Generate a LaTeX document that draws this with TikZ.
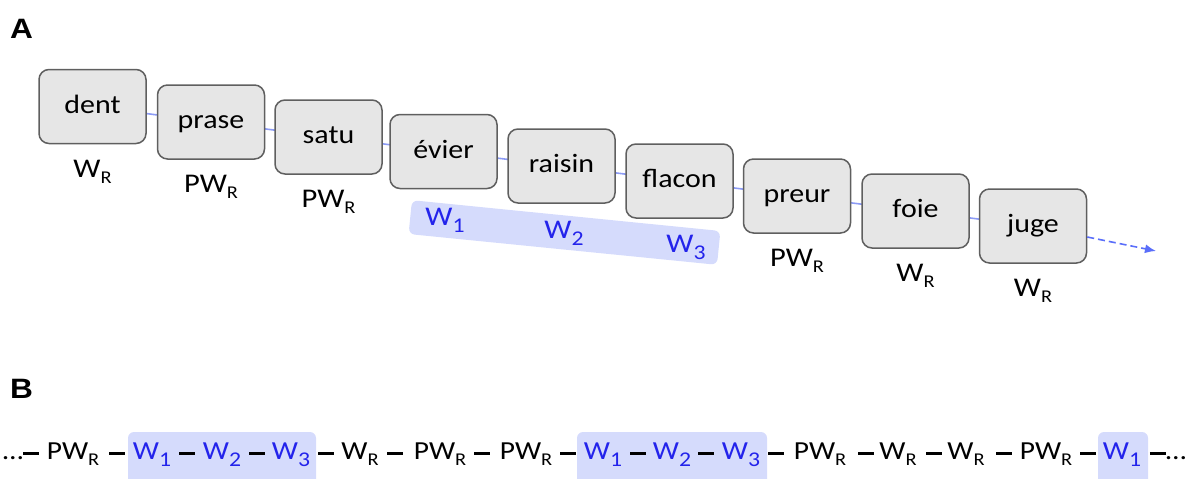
\documentclass[tikz,border=0pt]{standalone}
\usepackage{fontspec}
\setmainfont{Carlito}[FakeStretch=1.13]
\newfontfamily\panelfont{Liberation Sans}[FakeStretch=1.13]
\usetikzlibrary{arrows.meta}
\definecolor{boxfill}{RGB}{230,230,230}
\definecolor{boxdraw}{RGB}{95,95,95}
\definecolor{linkblue}{RGB}{140,155,245}
\definecolor{arrowblue}{RGB}{90,110,250}
\definecolor{wblue}{RGB}{35,35,235}
\definecolor{hl}{RGB}{213,219,252}
\newcommand\subR[1]{\raisebox{-6pt}{\fontsize{18}{18}\selectfont #1}}
\newcommand\subD[1]{\raisebox{-7pt}{\fontsize{21}{21}\selectfont #1}}
\newcommand\dsh{\rule[4.5pt]{16pt}{2.2pt}}
\pgfdeclarelayer{bg}
\pgfsetlayers{bg,main}
\begin{document}
\begin{tikzpicture}[x=1pt,y=-1pt,
  wordbox/.style={draw=boxdraw, line width=1.5pt, fill=boxfill, rounded corners=10pt,
    minimum width=107pt, minimum height=74pt, inner sep=0pt,
    font=\fontsize{26.5}{26.5}\selectfont, text height=18pt, text depth=5pt},
  lab/.style={anchor=base, inner sep=0pt, font=\fontsize{27}{27}\selectfont},
  blab/.style={anchor=base, inner sep=0pt, font=\fontsize{27}{27}\selectfont, text=wblue},
  tok/.style={anchor=base, inner sep=0pt, font=\fontsize{26}{26}\selectfont},
  btok/.style={tok, text=wblue},
  link/.style={draw=linkblue, line width=1.6pt},
  panel/.style={anchor=base west, inner sep=0pt, font=\panelfont\bfseries\fontsize{28}{28}\selectfont}
]
\useasboundingbox (0,0) rectangle (1195,479);
\clip (0,0) rectangle (1195,479);

% panel labels
\node[panel] (pA) at (10,38) {A};
\node[panel] (pB) at (10,398) {B};

% band behind W1 W2 W3
\node[fill=hl, rounded corners=6pt, rotate=-5.7, minimum width=310pt, minimum height=34pt, inner sep=0pt] (band) at (564.5,232.5) {};

% boxes
\node[wordbox] (dent)   at (92.5,106.5) {dent};
\node[wordbox] (prase)  at (211,122)    {prase};
\node[wordbox] (satu)   at (328.5,137)  {satu};
\node[wordbox] (evier)  at (443.5,151.5){évier};
\node[wordbox] (raisin) at (561.5,166)  {raisin};
\node[wordbox] (flacon) at (679.5,181)  {flacon};
\node[wordbox] (preur)  at (797,196)    {preur};
\node[wordbox] (foie)   at (915.5,211)  {foie};
\node[wordbox] (juge)   at (1033,226)   {juge};

\begin{pgfonlayer}{bg}
\draw[link] (dent.center) -- (prase.center);
\draw[link] (prase.center) -- (satu.center);
\draw[link] (satu.center) -- (evier.center);
\draw[link] (evier.center) -- (raisin.center);
\draw[link] (raisin.center) -- (flacon.center);
\draw[link] (flacon.center) -- (preur.center);
\draw[link] (preur.center) -- (foie.center);
\draw[link] (foie.center) -- (juge.center);
\end{pgfonlayer}

\coordinate (arrowend) at (1156,251);
\draw[draw=arrowblue, line width=1.6pt, dash pattern=on 7pt off 4pt,
  -{Latex[length=11pt,width=9pt]}] (juge) -- (arrowend);

% labels under boxes
\node[lab] (ldent)  at ([yshift=-70.5pt]dent.center)  {W\subR{R}};
\node[lab] (lprase) at ([yshift=-70.5pt]prase.center) {PW\subR{R}};
\node[lab] (lsatu)  at ([yshift=-70.5pt]satu.center)  {PW\subR{R}};
\node[lab] (lpreur) at ([yshift=-70.5pt]preur.center) {PW\subR{R}};
\node[lab] (lfoie)  at ([yshift=-70.5pt]foie.center)  {W\subR{R}};
\node[lab] (ljuge)  at ([yshift=-70.5pt]juge.center)  {W\subR{R}};

% band labels
\node[blab] (bw1) at (445,225) {W\subD{1}};
\node[blab] (bw2) at (564,238) {W\subD{2}};
\node[blab] (bw3) at (686,252) {W\subD{3}};

% B row highlights
\fill[hl, rounded corners=6pt] (128,432) rectangle (316,495);
\fill[hl, rounded corners=6pt] (577,432) rectangle (767,495);
\fill[hl, rounded corners=6pt] (1098,432) rectangle (1148,495);

% B row tokens
\node[tok]  (b1)  at (21,459)   {…\dsh};
\node[tok]  (b2)  at (73,459)   {PW\subR{R}};
\node[tok]  (b3)  at (117,459)  {\dsh};
\node[btok] (b4)  at (152,459)  {W\subD{1}};
\node[tok]  (b5)  at (187,459)  {\dsh};
\node[btok] (b6)  at (222,459)  {W\subD{2}};
\node[tok]  (b7)  at (257,459)  {\dsh};
\node[btok] (b8)  at (291,459)  {W\subD{3}};
\node[tok]  (b9)  at (326,459)  {\dsh};
\node[tok]  (b10) at (360,459)  {W\subR{R}};
\node[tok]  (b11) at (395,459)  {\dsh};
\node[tok]  (b12) at (440,459)  {PW\subR{R}};
\node[tok]  (b13) at (482,459)  {\dsh};
\node[tok]  (b14) at (526,459)  {PW\subR{R}};
\node[tok]  (b15) at (568,459)  {\dsh};
\node[btok] (b16) at (603,459)  {W\subD{1}};
\node[tok]  (b17) at (638,459)  {\dsh};
\node[btok] (b18) at (672,459)  {W\subD{2}};
\node[tok]  (b19) at (706,459)  {\dsh};
\node[btok] (b20) at (741,459)  {W\subD{3}};
\node[tok]  (b21) at (776,459)  {\dsh};
\node[tok]  (b22) at (820,459)  {PW\subR{R}};
\node[tok]  (b23) at (866,459)  {\dsh};
\node[tok]  (b24) at (898,459)  {W\subR{R}};
\node[tok]  (b25) at (934,459)  {\dsh};
\node[tok]  (b26) at (966,459)  {W\subR{R}};
\node[tok]  (b27) at (1004,459) {\dsh};
\node[tok]  (b28) at (1046,459) {PW\subR{R}};
\node[tok]  (b29) at (1088,459) {\dsh};
\node[btok] (b30) at (1122,459) {W\subD{1}};
\node[tok]  (b31) at (1168,459) {\dsh…};
\end{tikzpicture}
\end{document}
